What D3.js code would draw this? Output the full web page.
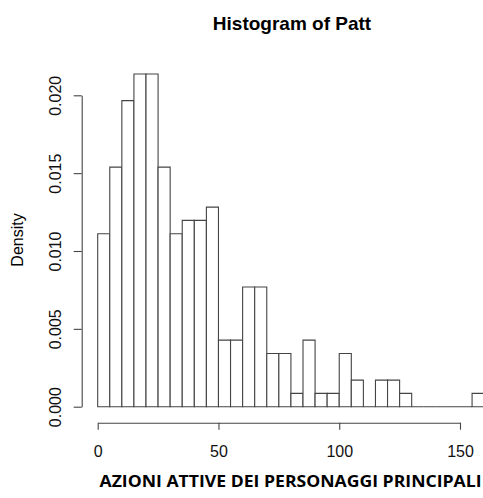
<!DOCTYPE html>
<html>
<head>
<meta charset="utf-8">
<script src="https://cdnjs.cloudflare.com/ajax/libs/d3/7.8.5/d3.min.js"></script>
<style>
  body { margin: 0; background: #fff; }
  svg { display: block; }
</style>
</head>
<body>
<svg id="chart" width="483" height="498"></svg>
<script>
// histogram bins (left edge of each bin, width 5) and counts
var binStarts = [0, 5, 10, 15, 20, 25, 30, 35, 40, 45, 50, 55, 60, 65, 70, 75,
                 80, 85, 90, 95, 100, 105, 110, 115, 120, 125, 130, 135, 140, 145, 150, 155];
var counts = [13, 18, 23, 25, 25, 18, 13, 14, 14, 15, 5, 5, 9, 9, 4, 4,
              1, 5, 1, 1, 4, 2, 0, 2, 2, 1, 0, 0, 0, 0, 0, 1];
var binWidth = 5;
var xTicks = [0, 50, 100, 150];
var yTicks = [0, 0.005, 0.010, 0.015, 0.020];

var titleText = "Histogram of Patt";
var xLabel = "AZIONI ATTIVE DEI PERSONAGGI PRINCIPALI";
var yLabel = "Density";

var n = d3.sum(counts);
var bins = binStarts.map(function(b, i) {
    return { x0: b, x1: b + binWidth, density: counts[i] / (n * binWidth) };
});

var svg = d3.select("#chart");

// scales
var x = d3.scaleLinear().domain([0, 150]).range([97.7, 460]);
var y = d3.scaleLinear().domain([0, 0.02]).range([406.7, 95.3]);

var lineColor = "#444";

// bars drawn as closed paths so empty bins still leave their base line
svg.append("g")
    .selectAll("path")
    .data(bins)
    .enter()
    .append("path")
    .attr("d", function(d) {
        var p = d3.path();
        p.rect(x(d.x0), y(d.density), x(d.x1) - x(d.x0), y(0) - y(d.density));
        return p.toString();
    })
    .attr("fill", "#fff")
    .attr("stroke", lineColor)
    .attr("stroke-width", 1.1);

// x axis (R style: detached below the bars)
var xAxis = svg.append("g")
    .attr("transform", "translate(0,422.7)")
    .call(d3.axisBottom(x).tickValues(xTicks).tickSize(7).tickSizeOuter(0).tickPadding(16));

// y axis
var yAxis = svg.append("g")
    .attr("transform", "translate(81.7,0)")
    .call(d3.axisLeft(y).tickValues(yTicks).tickFormat(d3.format(".3f")).tickSize(8).tickSizeOuter(0));

// rotate y tick labels like R does
yAxis.selectAll("text")
    .attr("x", 0)
    .attr("y", -20.5)
    .attr("dy", 0)
    .attr("transform", "rotate(-90)")
    .style("text-anchor", "middle");

svg.selectAll(".domain, .tick line")
    .attr("stroke", lineColor)
    .attr("stroke-width", 1.1);

svg.selectAll(".tick text")
    .attr("fill", "#111")
    .style("font-family", "Liberation Sans, Arial, sans-serif")
    .style("font-size", "16px");

// title
svg.append("text")
    .attr("x", 292)
    .attr("y", 30)
    .attr("text-anchor", "middle")
    .style("font-family", "Liberation Sans, Arial, sans-serif")
    .style("font-weight", "bold")
    .style("font-size", "19px")
    .text(titleText);

// x label
svg.append("text")
    .attr("x", 290.5)
    .attr("y", 487)
    .attr("text-anchor", "middle")
    .attr("textLength", 382)
    .attr("lengthAdjust", "spacingAndGlyphs")
    .style("font-family", "Open Sans, sans-serif")
    .style("font-weight", "bold")
    .style("font-size", "16.5px")
    .text(xLabel);

// y label
svg.append("text")
    .attr("transform", "translate(22.7,240) rotate(-90)")
    .attr("text-anchor", "middle")
    .style("font-family", "Liberation Sans, Arial, sans-serif")
    .style("font-size", "16px")
    .text(yLabel);
</script>
</body>
</html>
